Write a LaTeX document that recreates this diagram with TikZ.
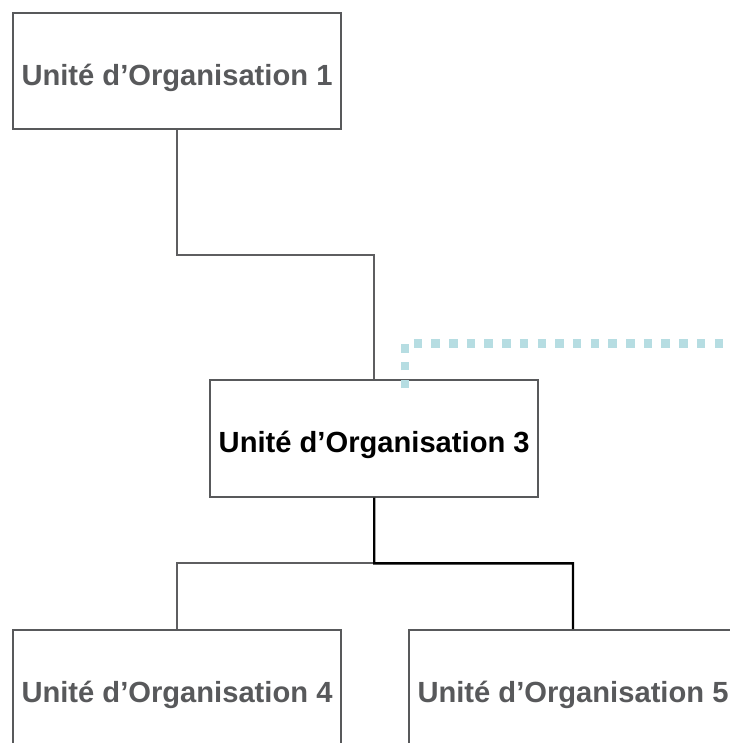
\documentclass[tikz,border=0pt]{standalone}
\usepackage{fontspec}
\setmainfont{Liberation Sans}
\usetikzlibrary{calc}
\definecolor{boxgray}{HTML}{58595B}
\definecolor{txtgray}{HTML}{58595B}
\definecolor{lineg}{HTML}{5E5E60}
\definecolor{aqua}{HTML}{B6DDE2}
\tikzset{
  unitbox/.style={draw=boxgray, line width=2pt, fill=white, minimum width=328pt, minimum height=116.5pt,
    inner sep=0pt, text height=29pt, text depth=0pt, font=\fontsize{29.15pt}{35pt}\selectfont\bfseries, text=txtgray},
  grayconn/.style={draw=lineg, line width=2pt},
  blackconn/.style={draw=black, line width=2.4pt},
  aquadots/.style={draw=aqua, line width=8.5pt, dash pattern=on 8.5pt off 9.2pt}
}
\begin{document}
\begin{tikzpicture}[x=1pt, y=-1pt]
\useasboundingbox (0,0) rectangle (729,743);
\node[unitbox] (b1) at (177,70.8) {Unité d’Organisation 1};
\node[unitbox, text=black] (b3) at (374.2,438.3) {Unité d’Organisation 3};
\node[unitbox] (b4) at (177,688.3) {Unité d’Organisation 4};
\node[unitbox] (b5) at (573,688.3) {Unité d’Organisation 5};
\coordinate (m1) at ($(b1.south)!0.5!(b3.north)$);
\draw[grayconn] (b1.south) |- (m1) -| (b3.north);
\coordinate (j) at ($(b3.south)!0.5!(b3.south |- b4.north)$);
\draw[grayconn] (j) -| (b4.north);
\draw[blackconn] (b3.south) -- (j) -| (b5.north);
\coordinate (dstart) at (405,388);
\coordinate (dend) at (745,343.5);
\draw[aquadots] (dstart) |- (dend);
\end{tikzpicture}
\end{document}
